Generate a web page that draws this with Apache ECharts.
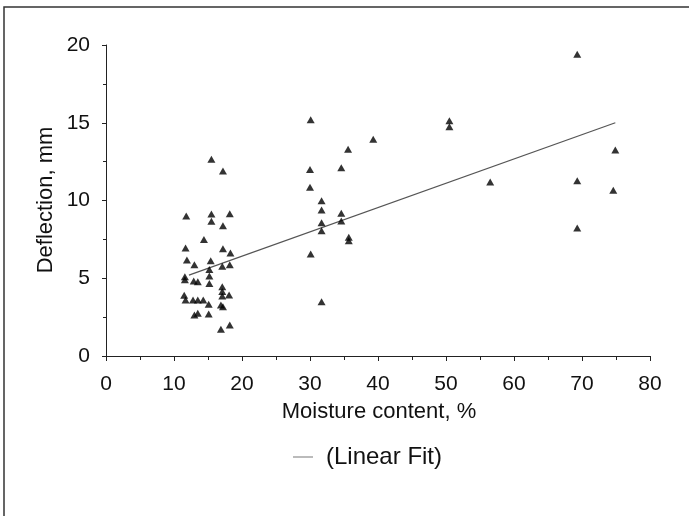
<!DOCTYPE html>
<html>
<head>
<meta charset="utf-8">
<script src="https://cdn.jsdelivr.net/npm/echarts@6/dist/echarts.min.js"></script>
<style>
html,body{margin:0;padding:0;background:#fff;}
#chart{width:689px;height:516px;}
</style>
</head>
<body>
<div id="chart"></div>
<script>
// Moisture content (%) of each measured specimen
var moistureX = [
  11.8, 11.7, 11.9, 11.6, 11.6, 11.5, 11.7,
  13.0, 12.9, 13.5, 12.8, 13.5, 13.0, 13.5,
  14.4, 14.3,
  15.5, 15.5, 15.5, 15.4, 15.2, 15.2, 15.2, 15.1, 15.1,
  17.2, 17.2, 17.2, 17.1, 17.1, 17.1, 17.1, 16.9, 17.2, 16.9,
  18.2, 18.3, 18.2, 18.1, 18.2,
  30.1, 30.0, 30.0, 30.1,
  31.7, 31.7, 31.7, 31.7, 31.7,
  34.6, 34.6, 34.6,
  35.6, 35.7, 35.7,
  39.3, 50.5, 50.5, 56.5,
  69.3, 69.3, 69.3, 74.9, 74.6
];
// Deflection (mm) of each specimen
var deflectionY = [
  9.0, 6.95, 6.17, 5.1, 4.9, 3.9, 3.6,
  5.87, 4.82, 4.78, 3.6, 3.6, 2.64, 2.75,
  7.5, 3.6,
  12.66, 9.13, 8.66, 6.13, 5.57, 5.14, 4.67, 3.32, 2.7,
  11.9, 8.38, 6.9, 5.77, 4.46, 4.14, 3.86, 3.28, 3.17, 1.72,
  9.15, 6.62, 5.87, 3.92, 1.99,
  15.2, 12.0, 10.85, 6.56,
  9.99, 9.39, 8.57, 8.06, 3.49,
  12.1, 9.18, 8.68,
  13.3, 7.63, 7.41,
  13.94, 15.13, 14.75, 11.19,
  19.4, 11.27, 8.23, 13.25, 10.66
];
// Linear fit line end points
var fitX = [12.2, 74.9];
var fitY = [5.2, 15.0];

var xTitle = 'Moisture content, %';
var yTitle = 'Deflection, mm';
var fitName = '(Linear Fit)';

var scatterData = moistureX.map(function (x, i) { return [x, deflectionY[i]]; });
var fitData = fitX.map(function (x, i) { return [x, fitY[i]]; });

var FONT = '"Liberation Sans", Arial, sans-serif';
var chart = echarts.init(document.getElementById('chart'), null, {renderer: 'canvas'});

var gridLeft = 106, gridRight = 39, gridTop = 45, gridBottom = 160;

chart.setOption({
  animation: false,
  backgroundColor: '#ffffff',
  grid: {left: gridLeft, right: gridRight, top: gridTop, bottom: gridBottom, containLabel: false},
  xAxis: {
    type: 'value', min: 0, max: 80, interval: 10,
    axisLine: {show: true, lineStyle: {color: '#222', width: 1}},
    axisTick: {show: true, length: 5, lineStyle: {color: '#222'}},
    minorTick: {show: true, splitNumber: 2, length: 4, lineStyle: {color: '#222'}},
    splitLine: {show: false},
    axisLabel: {color: '#111', fontFamily: FONT, fontSize: 21, margin: 18}
  },
  yAxis: {
    type: 'value', min: 0, max: 20, interval: 5,
    axisLine: {show: true, lineStyle: {color: '#222', width: 1}},
    axisTick: {show: true, length: 4, lineStyle: {color: '#222'}},
    minorTick: {show: true, splitNumber: 2, length: 3, lineStyle: {color: '#222'}},
    splitLine: {show: false},
    axisLabel: {color: '#111', fontFamily: FONT, fontSize: 21, margin: 16}
  },
  legend: {
    show: true,
    left: 288, top: 440,
    itemWidth: 20, itemHeight: 1,
    data: [{name: fitName, icon: 'rect'}],
    textStyle: {color: '#111', fontFamily: FONT, fontSize: 24, padding: [0, 0, 0, 8]}
  },
  graphic: [
    {type: 'rect', shape: {x: 4, y: 7, width: 720, height: 540}, style: {fill: 'none', stroke: '#333', lineWidth: 1.5}, silent: true},
    {type: 'text', x: 379, y: 412, style: {text: xTitle, fontFamily: FONT, fontSize: 22, fill: '#111', textAlign: 'center', textVerticalAlign: 'middle'}},
    {type: 'text', x: 46, y: 200, rotation: Math.PI / 2, style: {text: yTitle, fontFamily: FONT, fontSize: 22, fill: '#111', textAlign: 'center', textVerticalAlign: 'middle'}}
  ],
  series: [
    {
      name: 'Data', type: 'scatter', symbol: 'triangle', symbolSize: [8, 7],
      itemStyle: {color: '#000'}, data: scatterData, z: 3
    },
    {
      name: fitName, type: 'line', symbol: 'none', data: fitData,
      lineStyle: {color: '#555', width: 1.2}, itemStyle: {color: '#777'}, z: 2
    }
  ]
});
</script>
</body>
</html>
